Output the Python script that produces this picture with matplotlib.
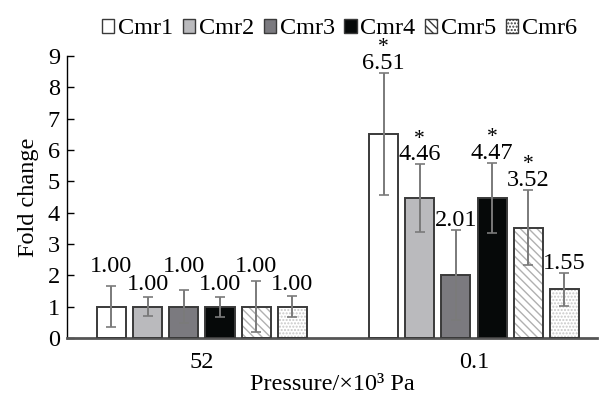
import numpy as np
import matplotlib.pyplot as plt
from matplotlib.patches import Patch

plt.rcParams['font.family'] = ['Liberation Serif', 'DejaVu Serif']
plt.rcParams['hatch.linewidth'] = 1.0

groups = ['52', '0.1']
series = ['Cmr1', 'Cmr2', 'Cmr3', 'Cmr4', 'Cmr5', 'Cmr6']
# fold change per series, [52, 0.1]
values = {
    'Cmr1': [1.00, 6.51],
    'Cmr2': [1.00, 4.46],
    'Cmr3': [1.00, 2.01],
    'Cmr4': [1.00, 4.47],
    'Cmr5': [1.00, 3.52],
    'Cmr6': [1.00, 1.55],
}
errors = {
    'Cmr1': [0.65, 1.95],
    'Cmr2': [0.30, 1.08],
    'Cmr3': [0.53, 1.43],
    'Cmr4': [0.32, 1.12],
    'Cmr5': [0.82, 1.20],
    'Cmr6': [0.33, 0.52],
}
signif = {
    'Cmr1': [False, True],
    'Cmr2': [False, True],
    'Cmr3': [False, False],
    'Cmr4': [False, True],
    'Cmr5': [False, True],
    'Cmr6': [False, False],
}

faces = ['white', '#bababd', '#7b7a7f', '#060909', 'white', 'white']
hatches = [None, None, None, None, '\\\\\\\\', '.....']
hatch_cols = ['#333333', '#333333', '#333333', '#333333', '#b0b0b0', '#c8c8c8']

fig = plt.figure(figsize=(6.03, 3.99), dpi=100)
ax = fig.add_axes([0.111, 0.153, 0.879, 0.707])

x = np.arange(len(groups))
w = 0.107
step = 0.133
fs = 17.5

for i, s in enumerate(series):
    xs = x + (i - 2.5) * step
    # hatch layer first, then the outline
    ax.bar(xs, values[s], w, color=faces[i], edgecolor=hatch_cols[i],
           hatch=hatches[i], linewidth=0, zorder=2)
    ax.bar(xs, values[s], w, color='none', edgecolor='#3a3a3a',
           linewidth=1.4, zorder=3, label=s)
    ax.errorbar(xs, values[s], yerr=errors[s], fmt='none', ecolor='#7a7a7a',
                elinewidth=1.4, capsize=3.5, capthick=1.2, zorder=4)
    for j in range(len(groups)):
        v = values[s][j]
        top = v + errors[s][j]
        if j == 0:
            # staggered labels in the first group
            ly = 2.29 if i % 2 == 0 else 1.72
        else:
            ly = top + 0.3
        ax.text(xs[j], ly, '%.2f' % v, ha='center', va='center', fontsize=fs)
        if signif[s][j]:
            ax.text(xs[j], ly + 0.36, '*', ha='center', va='baseline',
                    fontsize=fs - 2, clip_on=False)

ax.set_xlim(-0.496, 1.452)
ax.set_ylim(0, 9)
ax.set_yticks(range(10))
ax.set_xticks(x)
ax.set_xticklabels(groups)
ax.tick_params(axis='y', direction='in', length=5, width=1, labelsize=fs, pad=5)
ax.tick_params(axis='x', length=0, labelsize=fs, pad=10)
ax.spines['top'].set_visible(False)
ax.spines['right'].set_visible(False)
ax.spines['left'].set_linewidth(1.0)
ax.spines['bottom'].set_color('#555555')
ax.spines['bottom'].set_linewidth(2)
ax.set_ylabel('Fold change', fontsize=fs, labelpad=6)
ax.set_xlabel('Pressure/×10³ Pa', fontsize=fs, labelpad=1)

# legend with small square handles
handles = [Patch(facecolor=faces[i], edgecolor='#3a3a3a', hatch=hatches[i], linewidth=1)
           for i in range(len(series))]
fig.legend(handles, series, loc='center', bbox_to_anchor=(0.563, 0.928), ncol=6,
           frameon=False, fontsize=fs, handlelength=0.5, handleheight=0.5,
           handletextpad=0.15, columnspacing=0.4, borderpad=0)

fig.savefig('out.png', dpi=100)
